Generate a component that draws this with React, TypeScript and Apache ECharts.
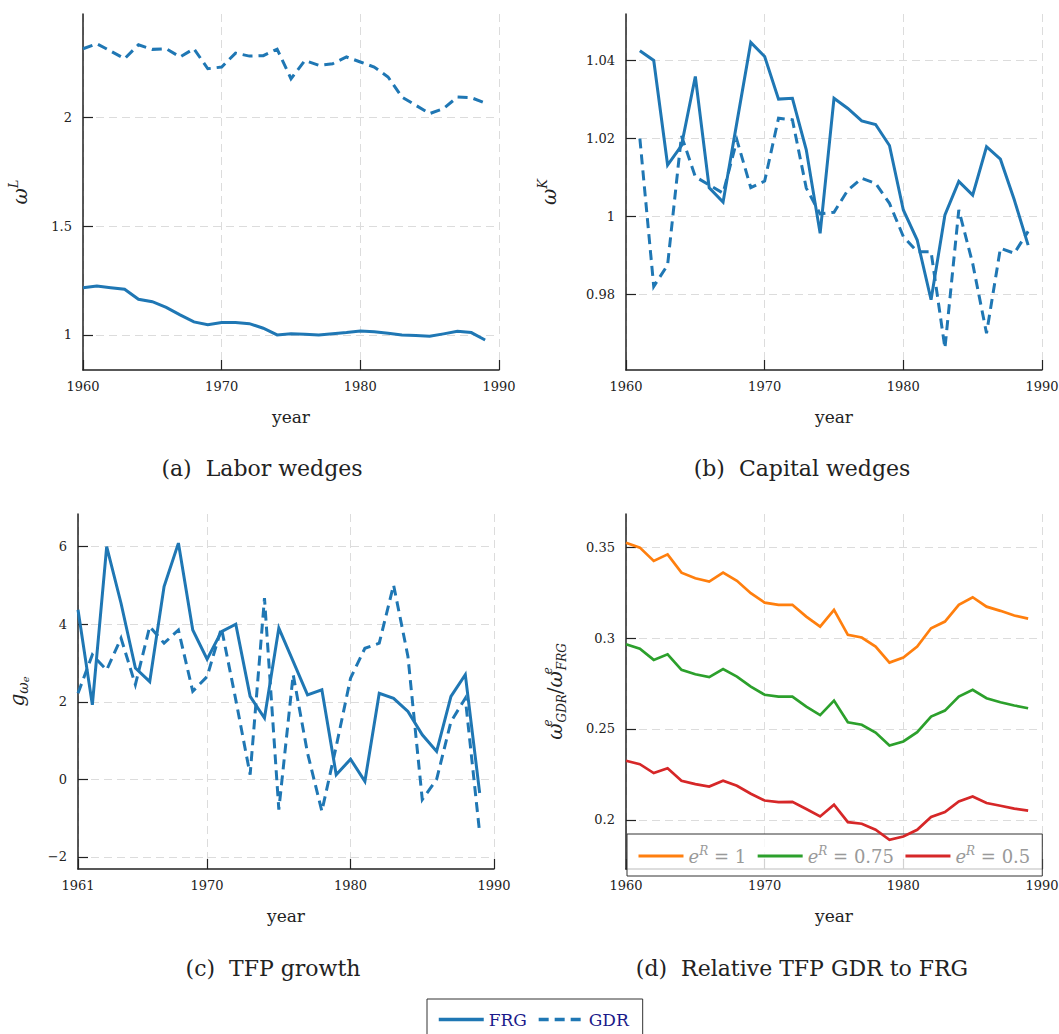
import React, { useEffect, useRef } from "react";
import * as echarts from "echarts";

const FONT = "DejaVu Serif";
const BLUE = "#1f77b4";

// ---------- data ----------
const yearsFull = [1960, 1961, 1962, 1963, 1964, 1965, 1966, 1967, 1968, 1969, 1970, 1971, 1972, 1973, 1974, 1975, 1976, 1977, 1978, 1979, 1980, 1981, 1982, 1983, 1984, 1985, 1986, 1987, 1988, 1989];
const yearsFrom61 = [1961, 1962, 1963, 1964, 1965, 1966, 1967, 1968, 1969, 1970, 1971, 1972, 1973, 1974, 1975, 1976, 1977, 1978, 1979, 1980, 1981, 1982, 1983, 1984, 1985, 1986, 1987, 1988, 1989];

const laborFRG = [1.217, 1.225, 1.217, 1.21, 1.164, 1.153, 1.127, 1.092, 1.06, 1.047, 1.057, 1.057, 1.052, 1.031, 1.0, 1.006, 1.003, 1.0, 1.006, 1.011, 1.018, 1.015, 1.008, 1.0, 0.997, 0.994, 1.005, 1.017, 1.011, 0.977];
const laborGDR = [2.315, 2.338, 2.304, 2.269, 2.333, 2.312, 2.315, 2.277, 2.315, 2.223, 2.231, 2.295, 2.281, 2.283, 2.313, 2.177, 2.261, 2.239, 2.246, 2.277, 2.254, 2.231, 2.185, 2.093, 2.055, 2.017, 2.04, 2.093, 2.09, 2.066];

const capitalFRG = [1.0425, 1.04, 1.0132, 1.0182, 1.0359, 1.0074, 1.0037, 1.0242, 1.0446, 1.041, 1.0301, 1.0303, 1.0171, 0.9957, 1.0303, 1.0277, 1.0245, 1.0236, 1.0182, 1.0017, 0.994, 0.9787, 1.0004, 1.009, 1.0055, 1.0179, 1.0147, 1.0043, 0.9927];
const capitalGDR = [1.02, 0.9821, 0.9876, 1.0207, 1.0102, 1.0081, 1.006, 1.0196, 1.0074, 1.0091, 1.0252, 1.0248, 1.0073, 1.0007, 1.0011, 1.0068, 1.0098, 1.0085, 1.0034, 0.9949, 0.991, 0.991, 0.9663, 1.0017, 0.988, 0.9701, 0.9919, 0.9906, 0.9962];

const tfpFRG = [4.37, 1.92, 6.0, 4.54, 2.87, 2.52, 4.97, 6.09, 3.85, 3.1, 3.81, 4.0, 2.14, 1.58, 3.9, 3.04, 2.18, 2.31, 0.12, 0.52, -0.05, 2.22, 2.09, 1.75, 1.15, 0.72, 2.14, 2.7, -0.35];
const tfpGDR = [2.22, 3.21, 2.82, 3.64, 2.44, 3.94, 3.51, 3.85, 2.27, 2.65, 3.9, 2.05, 0.12, 4.67, -0.78, 2.7, 0.68, -0.82, 0.85, 2.61, 3.38, 3.51, 5.01, 3.17, -0.52, 0.0, 1.49, 2.09, -1.38];

const relE1 = [0.3525, 0.3498, 0.3425, 0.3461, 0.336, 0.3329, 0.3311, 0.336, 0.3315, 0.3247, 0.3195, 0.3183, 0.3183, 0.3118, 0.3063, 0.3155, 0.3018, 0.3003, 0.2953, 0.2865, 0.2893, 0.2953, 0.3054, 0.3091, 0.3183, 0.3225, 0.3173, 0.315, 0.3124, 0.3107];
const relE075 = [0.2966, 0.2941, 0.288, 0.2911, 0.2825, 0.2801, 0.2785, 0.2829, 0.2788, 0.2733, 0.2688, 0.2678, 0.2678, 0.2623, 0.2576, 0.2656, 0.2537, 0.2523, 0.248, 0.2409, 0.2431, 0.2482, 0.2568, 0.2601, 0.2678, 0.2715, 0.2669, 0.2647, 0.2629, 0.2614];
const relE05 = [0.2325, 0.2306, 0.2257, 0.2284, 0.2215, 0.2196, 0.2183, 0.2215, 0.2187, 0.2143, 0.2106, 0.2097, 0.2099, 0.2059, 0.2018, 0.2083, 0.1987, 0.1978, 0.1945, 0.189, 0.1908, 0.1945, 0.2015, 0.2042, 0.2101, 0.2128, 0.2092, 0.2077, 0.2061, 0.205];

const xTicksA = [1960, 1970, 1980, 1990];
const xTicksC = [1961, 1970, 1980, 1990];
const yTicksA = [1, 1.5, 2];
const yTicksB = [0.98, 1, 1.02, 1.04];
const yTicksC = [-2, 0, 2, 4, 6];
const yTicksD = [0.2, 0.25, 0.3, 0.35];

const captions = ["(a)  Labor wedges", "(b)  Capital wedges", "(c)  TFP growth", "(d)  Relative TFP GDR to FRG"];

// ---------- helpers ----------
const pairs = (xs: number[], ys: number[]) => ys.map((y, i) => [xs[i], y]);
const fmt = (v: number) => (v < 0 ? "\u2212" + String(-v) : String(v));

const gridLine = { show: true, lineStyle: { color: "#dcdcdc", type: [8, 5], width: 1 } };

function xAxis(gridIndex: number, min: number, max: number, ticks: number[]) {
  return {
    type: "value",
    gridIndex,
    min,
    max,
    axisLine: { show: true, onZero: false, lineStyle: { color: "#222", width: 1.5 } },
    axisTick: { show: true, inside: true, length: 10, customValues: ticks, lineStyle: { color: "#222", width: 1.2 } },
    axisLabel: { customValues: ticks, color: "#222", fontFamily: FONT, fontSize: 13, margin: 10, formatter: (v: number) => String(v) },
    splitLine: gridLine,
    name: "year",
    nameLocation: "middle",
    nameGap: 38,
    nameTextStyle: { fontFamily: FONT, fontSize: 17, color: "#222" },
  };
}

const richBase = {
  w: { fontFamily: FONT, fontStyle: "italic", fontSize: 20, lineHeight: 26, color: "#222" },
  n: { fontFamily: FONT, fontSize: 20, lineHeight: 26, color: "#222" },
  s: { fontFamily: FONT, fontStyle: "italic", fontSize: 13, lineHeight: 14, verticalAlign: "top", color: "#222" },
  so: { fontFamily: FONT, fontStyle: "italic", fontSize: 12, lineHeight: 14, verticalAlign: "top", width: 1, color: "#222" },
  b: { fontFamily: FONT, fontStyle: "italic", fontSize: 12, lineHeight: 14, verticalAlign: "bottom", color: "#222" },
  bw: { fontFamily: FONT, fontStyle: "italic", fontSize: 14, lineHeight: 18, verticalAlign: "bottom", color: "#222" },
  be: { fontFamily: FONT, fontStyle: "italic", fontSize: 10, lineHeight: 22, verticalAlign: "bottom", color: "#222" },
};

function yAxis(gridIndex: number, min: number, max: number, ticks: number[], name: string, nameGap: number) {
  return {
    type: "value",
    gridIndex,
    min,
    max,
    axisLine: { show: true, lineStyle: { color: "#222", width: 1.5 } },
    axisTick: { show: true, inside: true, length: 10, customValues: ticks, lineStyle: { color: "#222", width: 1.2 } },
    axisLabel: { customValues: ticks, color: "#222", fontFamily: FONT, fontSize: 13, margin: 11, formatter: fmt },
    splitLine: gridLine,
    name,
    nameLocation: "middle",
    nameRotate: 90,
    nameGap,
    nameTextStyle: { fontFamily: FONT, fontSize: 20, color: "#222", rich: richBase },
  };
}

function line(name: string, xi: number, data: number[][], color: string, dashed: boolean, width = 3) {
  return {
    type: "line",
    name,
    xAxisIndex: xi,
    yAxisIndex: xi,
    data,
    symbol: "none",
    showSymbol: false,
    smooth: false,
    z: dashed ? 3 : 4,
    lineStyle: { color, width, type: dashed ? [10, 6] : "solid", cap: "butt", join: "miter" },
    itemStyle: { color },
    emphasis: { disabled: true },
  };
}

const legendNames: Record<string, string> = {
  e1: "{e|e}{s|R}{t| = 1}",
  e075: "{e|e}{s|R}{t| = 0.75}",
  e05: "{e|e}{s|R}{t| = 0.5}",
};

const captionStyle = { fontFamily: FONT, fontSize: 22, fill: "#222", align: "center", verticalAlign: "middle" };

const option: any = {
  animation: false,
  backgroundColor: "#ffffff",
  grid: [
    { left: 83, top: 14, width: 416, height: 356, outerBoundsMode: "none" },
    { left: 626, top: 14, width: 416, height: 356, outerBoundsMode: "none" },
    { left: 78, top: 514, width: 416, height: 355, outerBoundsMode: "none" },
    { left: 626, top: 514, width: 416, height: 355, outerBoundsMode: "none" },
  ],
  xAxis: [
    xAxis(0, 1960, 1990, xTicksA),
    xAxis(1, 1960, 1990, xTicksA),
    xAxis(2, 1961, 1990, xTicksC),
    xAxis(3, 1960, 1990, xTicksA),
  ],
  yAxis: [
    yAxis(0, 0.839, 2.4745, yTicksA, "{w|ω}{s|L}", 50),
    yAxis(1, 0.9607, 1.0519, yTicksB, "{w|ω}{s|K}", 64),
    yAxis(2, -2.31, 6.84, yTicksC, "{w|g}{bw|ω}{be|e}", 48),
    yAxis(3, 0.1729, 0.3683, yTicksD, "{w|ω}{so|e}{b|GDR}{n|/}{w|ω}{so|e}{b|FRG}", 58),
  ],
  legend: [
    {
      data: ["FRG", "GDR"],
      left: 427,
      top: 999,
      orient: "horizontal",
      padding: [12, 14, 14, 10],
      itemWidth: 45,
      itemHeight: 14,
      itemGap: 10,
      borderColor: "#333",
      borderWidth: 1,
      selectedMode: false,
      itemStyle: { opacity: 0 },
      lineStyle: { width: 3.5 },
      textStyle: { fontFamily: FONT, fontSize: 17, color: "#1a1a8a" },
    },
    {
      data: ["e1", "e075", "e05"],
      left: 627,
      top: 834,
      orient: "horizontal",
      padding: [11, 12, 11, 10],
      itemWidth: 45,
      itemHeight: 14,
      itemGap: 10,
      borderColor: "#333",
      borderWidth: 1,
      backgroundColor: "rgba(255,255,255,0.8)",
      selectedMode: false,
      itemStyle: { opacity: 0 },
      lineStyle: { width: 3 },
      formatter: (n: string) => legendNames[n],
      textStyle: {
        fontFamily: FONT,
        fontSize: 18,
        color: "#999",
        rich: {
          e: { fontFamily: FONT, fontStyle: "italic", fontSize: 18, lineHeight: 22, color: "#999" },
          s: { fontFamily: FONT, fontStyle: "italic", fontSize: 12, lineHeight: 12, verticalAlign: "top", color: "#999" },
          t: { fontFamily: FONT, fontSize: 18, lineHeight: 22, color: "#999" },
        },
      },
    },
  ],
  series: [
    line("FRG", 0, pairs(yearsFull, laborFRG), BLUE, false),
    line("GDR", 0, pairs(yearsFull, laborGDR), BLUE, true),
    line("FRG", 1, pairs(yearsFrom61, capitalFRG), BLUE, false),
    line("GDR", 1, pairs(yearsFrom61, capitalGDR), BLUE, true),
    line("FRG", 2, pairs(yearsFrom61, tfpFRG), BLUE, false),
    line("GDR", 2, pairs(yearsFrom61, tfpGDR), BLUE, true),
    line("e1", 3, pairs(yearsFull, relE1), "#ff7f0e", false, 2.7),
    line("e075", 3, pairs(yearsFull, relE075), "#2ca02c", false, 2.7),
    line("e05", 3, pairs(yearsFull, relE05), "#d62728", false, 2.7),
  ],
  graphic: [
    { type: "text", x: 262, y: 468, style: { ...captionStyle, text: captions[0] } },
    { type: "text", x: 802, y: 468, style: { ...captionStyle, text: captions[1] } },
    { type: "text", x: 273, y: 968, style: { ...captionStyle, text: captions[2] } },
    { type: "text", x: 802, y: 968, style: { ...captionStyle, text: captions[3] } },
  ],
};

export default function App() {
  const ref = useRef<HTMLDivElement>(null);
  useEffect(() => {
    document.body.style.margin = "0";
    const chart = echarts.init(ref.current!, null, { renderer: "svg" });
    chart.setOption(option);
    return () => chart.dispose();
  }, []);
  return <div ref={ref} style={{ width: 1059, height: 1034 }} />;
}
